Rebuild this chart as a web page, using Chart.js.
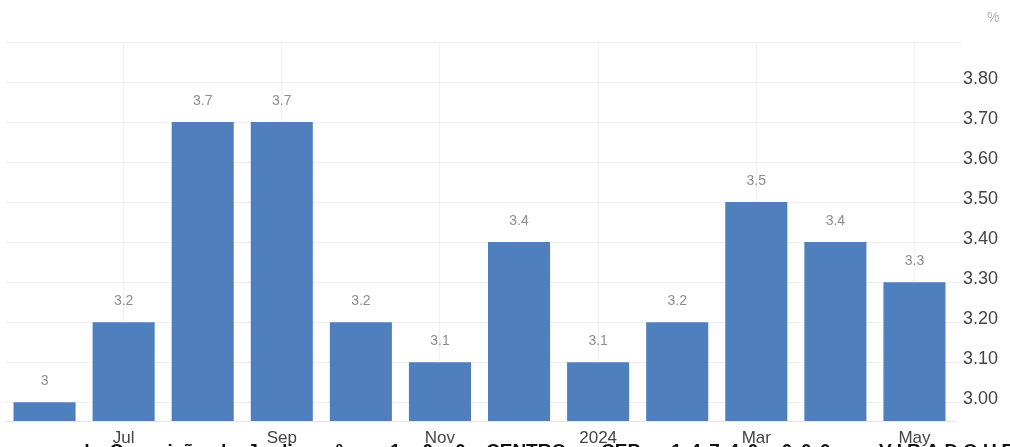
<!DOCTYPE html>
<html>
<head>
<meta charset="utf-8">
<script src="https://cdn.jsdelivr.net/npm/chart.js@4/dist/chart.umd.min.js"></script>
<style>
    html, body { margin: 0; padding: 0; background: #fff; overflow: hidden; }
    #wrap { position: relative; width: 1010px; height: 447px; overflow: hidden; }
    #unit { position: absolute; left: 987px; top: 9px; font: 14px "Liberation Sans", Arial, sans-serif; color: #b0b0b0; }
    .foot { position: absolute; top: 440px; white-space: nowrap; font: bold 19px "Liberation Sans", Arial, sans-serif; color: #111; }
</style>
</head>
<body>
<div id="wrap">
    <canvas id="barChart" width="1010" height="447"></canvas>
    <div id="unit">%</div>
    <div class="foot" style="left: 78px; word-spacing: 4px;">da Conceição do Jardim, nº</div>
    <div class="foot" style="left: 390px; letter-spacing: 22px;">100</div>
    <div class="foot" style="left: 486px;">CENTRO</div>
    <div class="foot" style="left: 572px;">-</div>
    <div class="foot" style="left: 601px;">CEP</div>
    <div class="foot" style="left: 671px; letter-spacing: 8.6px;">14740-000</div>
    <div class="foot" style="left: 853px;">-</div>
    <div class="foot" style="left: 879px; letter-spacing: 5px;">VIRADOURO</div>
</div>
<script>
// months Jun 2023 .. May 2024
const months = ['Jun', 'Jul', 'Aug', 'Sep', 'Oct', 'Nov', 'Dec', '2024', 'Feb', 'Mar', 'Apr', 'May'];
const rates = [3.0, 3.2, 3.7, 3.7, 3.2, 3.1, 3.4, 3.1, 3.2, 3.5, 3.4, 3.3];
const yTicks = [3.0, 3.1, 3.2, 3.3, 3.4, 3.5, 3.6, 3.7, 3.8, 3.9];

const barLabels = {
    id: 'barLabels',
    afterDatasetsDraw(chart) {
        const ctx = chart.ctx;
        const meta = chart.getDatasetMeta(0);
        ctx.save();
        ctx.font = '14px "Liberation Sans", Arial, sans-serif';
        ctx.fillStyle = '#8c8c8c';
        ctx.textAlign = 'center';
        ctx.textBaseline = 'middle';
        meta.data.forEach((bar, i) => {
            ctx.fillText(String(rates[i]), bar.x, bar.y - 21);
        });
        ctx.restore();
    }
};

const ctx = document.getElementById('barChart');
new Chart(ctx, {
    type: 'bar',
    data: {
        labels: months,
        datasets: [{
            data: rates,
            backgroundColor: '#4f80bd',
            borderWidth: 0,
            categoryPercentage: 1,
            barPercentage: 0.785
        }]
    },
    options: {
        responsive: false,
        animation: false,
        layout: { padding: { left: 5, right: 12, top: 42, bottom: 0 } },
        plugins: { legend: { display: false }, tooltip: { enabled: false } },
        scales: {
            x: {
                afterFit: (axis) => { axis.height = 26; },
                grid: {
                    offset: false,
                    color: (c) => (c.index % 2 === 1 ? '#efefef' : 'rgba(0,0,0,0)'),
                    drawTicks: false
                },
                border: { display: true, color: '#e6e6e6' },
                ticks: {
                    autoSkip: false,
                    maxRotation: 0,
                    padding: 7,
                    color: '#444',
                    font: { family: '"Liberation Sans", Arial, sans-serif', size: 17 },
                    callback: function (val, i) { return i % 2 === 1 ? months[i] : ''; }
                }
            },
            y: {
                position: 'right',
                min: 2.953,
                max: 3.9,
                afterFit: (axis) => { axis.width = 44; },
                afterBuildTicks: (scale) => { scale.ticks = yTicks.map(v => ({ value: v })); },
                grid: { color: '#efefef', tickLength: 7 },
                border: { display: false },
                ticks: {
                    padding: 2,
                    labelOffset: -3,
                    color: '#444',
                    font: { family: '"Liberation Sans", Arial, sans-serif', size: 18 },
                    callback: (v) => (v >= 3.85 ? '' : v.toFixed(2))
                }
            }
        }
    },
    plugins: [barLabels]
});
</script>
</body>
</html>
